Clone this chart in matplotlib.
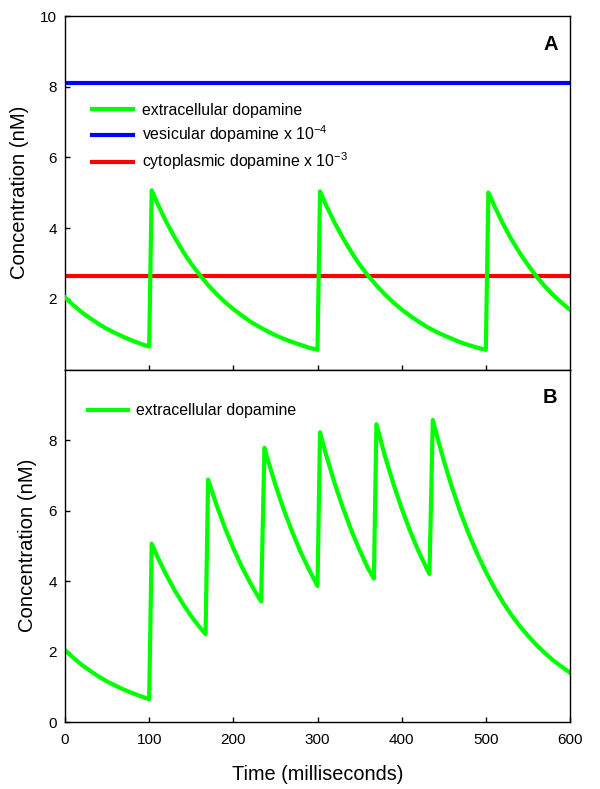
import matplotlib
matplotlib.use("Agg")
import matplotlib.pyplot as plt

plt.rcParams['font.family'] = ['Liberation Sans', 'DejaVu Sans']
plt.rcParams['mathtext.default'] = 'regular'

# ---- Panel A data ----
time_a = [0, 10, 20, 30, 40, 50, 60, 70, 80, 90, 100,
          103, 110, 120, 130, 140, 150, 160, 170, 180, 190, 200, 210, 220, 230, 240, 250, 260, 270, 280, 290, 300,
          303, 310, 320, 330, 340, 350, 360, 370, 380, 390, 400, 410, 420, 430, 440, 450, 460, 470, 480, 490, 500,
          503, 510, 520, 530, 540, 550, 560, 570, 580, 590, 600]
extracellular_a = [2.04, 1.82, 1.62, 1.45, 1.29, 1.15, 1.03, 0.92, 0.82, 0.73, 0.65,
                   5.07, 4.69, 4.19, 3.75, 3.35, 2.99, 2.68, 2.39, 2.14, 1.91, 1.71, 1.53, 1.36, 1.22, 1.09, 0.97, 0.87, 0.78, 0.70, 0.62, 0.56,
                   5.04, 4.66, 4.17, 3.73, 3.33, 2.97, 2.66, 2.38, 2.13, 1.90, 1.70, 1.52, 1.36, 1.21, 1.08, 0.97, 0.87, 0.77, 0.69, 0.62, 0.56,
                   5.01, 4.64, 4.14, 3.70, 3.31, 2.96, 2.64, 2.36, 2.11, 1.89, 1.69]
vesicular_level = 8.10     # vesicular dopamine x 1e-4
cytoplasmic_level = 2.65   # cytoplasmic dopamine x 1e-3

# ---- Panel B data ----
time_b = [0, 10, 20, 30, 40, 50, 60, 70, 80, 90, 100,
          103, 110, 120, 130, 140, 150, 160, 167,
          170, 180, 190, 200, 210, 220, 230, 233,
          237, 240, 250, 260, 270, 280, 290, 300,
          303, 310, 320, 330, 340, 350, 360, 367,
          370, 380, 390, 400, 410, 420, 430, 433,
          437, 440, 450, 460, 470, 480, 490, 500, 510, 520, 530, 540, 550, 560, 570, 580, 590, 600]
extracellular_b = [2.04, 1.82, 1.62, 1.45, 1.29, 1.15, 1.03, 0.92, 0.82, 0.73, 0.65,
                   5.06, 4.68, 4.19, 3.75, 3.36, 3.00, 2.69, 2.49,
                   6.88, 6.16, 5.51, 4.93, 4.41, 3.95, 3.54, 3.42,
                   7.78, 7.52, 6.73, 6.02, 5.39, 4.82, 4.32, 3.86,
                   8.22, 7.60, 6.80, 6.09, 5.45, 4.88, 4.36, 4.07,
                   8.45, 7.56, 6.77, 6.06, 5.42, 4.85, 4.34, 4.20,
                   8.57, 8.29, 7.42, 6.64, 5.94, 5.32, 4.76, 4.26, 3.81, 3.41, 3.05, 2.73, 2.45, 2.19, 1.96, 1.75, 1.57, 1.40]

x_ticks = [0, 100, 200, 300, 400, 500, 600]
y_ticks_a = [2, 4, 6, 8, 10]
y_ticks_b = [0, 2, 4, 6, 8]

GREEN = '#00ff00'
BLUE = '#0000ff'
RED = '#ff0000'

fig = plt.figure(figsize=(6.0, 7.89), dpi=100)
L, R = 65 / 600, 570 / 600
top_a, mid, bot_b = 1 - 16 / 789, 1 - 369.6 / 789, 1 - 722 / 789
ax_a = fig.add_axes([L, mid, R - L, top_a - mid])
ax_b = fig.add_axes([L, bot_b, R - L, mid - bot_b])

lw = 3.0
ax_a.plot(time_a, extracellular_a, color=GREEN, lw=lw, label='extracellular dopamine', zorder=3)
ax_a.axhline(vesicular_level, color=BLUE, lw=lw, label='vesicular dopamine x 10$^{-4}$', zorder=2)
ax_a.axhline(cytoplasmic_level, color=RED, lw=lw, label='cytoplasmic dopamine x 10$^{-3}$', zorder=2)

ax_b.plot(time_b, extracellular_b, color=GREEN, lw=lw, label='extracellular dopamine')

for ax in (ax_a, ax_b):
    ax.set_xlim(0, 600)
    ax.set_ylim(0, 10)
    for s in ax.spines.values():
        s.set_linewidth(1.0)
    ax.tick_params(direction='in', length=3.6, width=1, labelsize=11)
    ax.tick_params(axis='y', pad=6)
    ax.tick_params(axis='x', pad=8)

ax_a.set_xticks([100, 200, 300, 400, 500])
ax_a.tick_params(axis='x', labelbottom=False)
ax_a.set_yticks(y_ticks_a)
ax_b.set_xticks(x_ticks)
ax_b.set_yticks(y_ticks_b)

ax_a.set_ylabel('Concentration (nM)', fontsize=14.6, labelpad=8)
ax_b.set_ylabel('Concentration (nM)', fontsize=14.6, labelpad=8)
ax_b.set_xlabel('Time (milliseconds)', fontsize=14.3, labelpad=13)

ax_a.text(0.961, 0.920, 'A', transform=ax_a.transAxes, fontsize=14.5, fontweight='bold', ha='center', va='center')
ax_b.text(0.961, 0.920, 'B', transform=ax_b.transAxes, fontsize=14.5, fontweight='bold', ha='center', va='center')

leg_kw = dict(frameon=False, fontsize=11.4, handlelength=2.6, handletextpad=0.53, borderaxespad=0, borderpad=0)
ax_a.legend(loc='upper left', bbox_to_anchor=(0.0535, 0.754), labelspacing=0.35, **leg_kw)
ax_b.legend(loc='upper left', bbox_to_anchor=(0.0455, 0.904), handlelength=2.5, handletextpad=0.53,
            frameon=False, fontsize=11.4, borderaxespad=0, borderpad=0)

fig.savefig('out.png', dpi=100)
